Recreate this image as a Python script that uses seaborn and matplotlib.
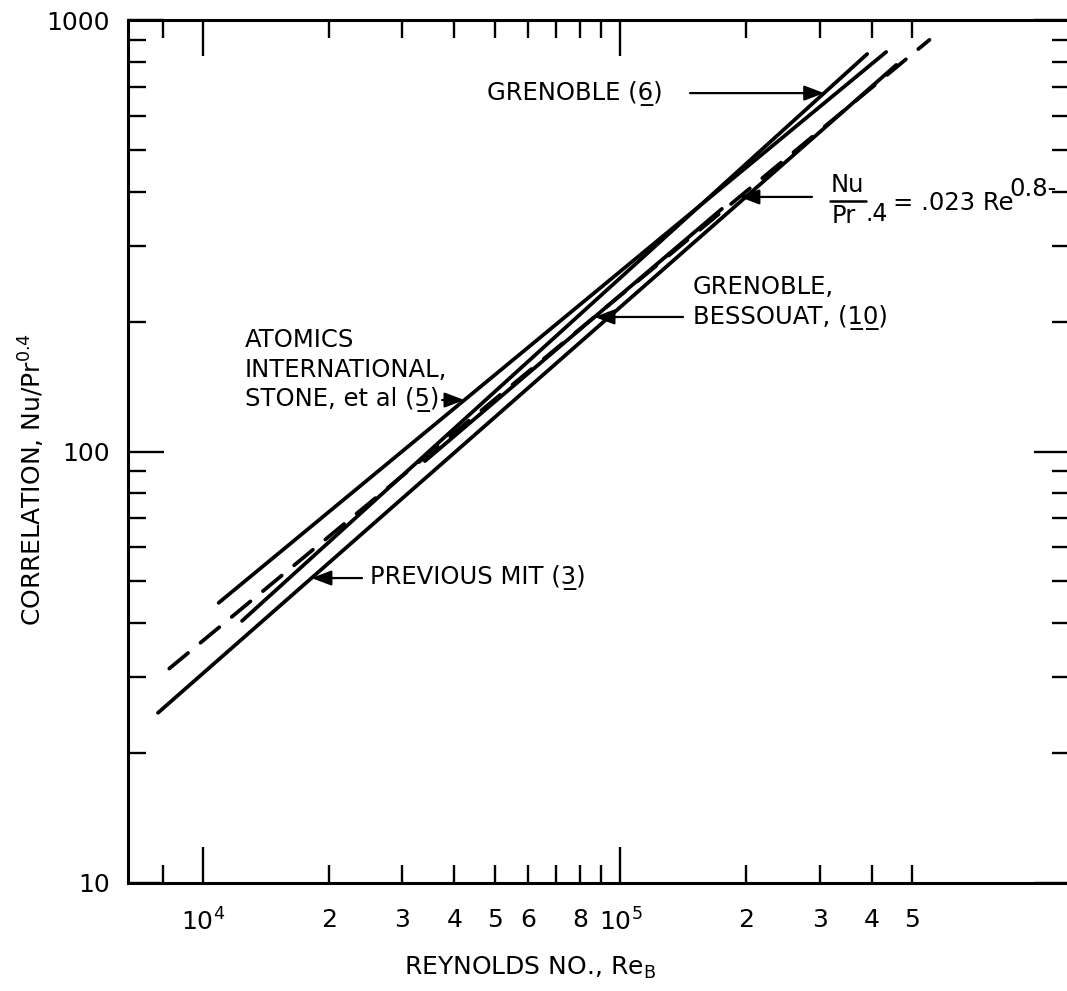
import numpy as np
import matplotlib
matplotlib.use("Agg")
import matplotlib.pyplot as plt
from matplotlib.lines import Line2D
from matplotlib.ticker import FixedLocator, FixedFormatter
import seaborn as sns

# ---- correlation lines: end points (Reynolds number, Nu/Pr^0.4) ----
atomics_re = [1.09e4, 4.33e5]
atomics_nu = [44.6, 843.0]
grenoble_re = [1.24e4, 3.90e5]
grenoble_nu = [40.5, 834.0]
mit_re = [7.8e3, 4.58e5]
mit_nu = [24.8, 787.0]
bessouat_re = [3.4e4, 1.75e5]
bessouat_nu = [95.0, 365.0]

# Dittus-Boelter form  Nu/Pr^.4 = .023 Re^0.8
db_coef = 0.023
db_exp = 0.8
db_re = [8.3e3, 5.5e5]

# ---- axis ticks ----
x_major = [1e4, 1e5]
x_major_labels = [r"$\mathregular{10^4}$", r"$\mathregular{10^5}$"]
x_minor = [8e3, 2e4, 3e4, 4e4, 5e4, 6e4, 7e4, 8e4, 9e4, 2e5, 3e5, 4e5, 5e5]
x_minor_labels = ["", "2", "3", "4", "5", "6", "", "8", "", "2", "3", "4", "5"]
y_major = [10, 100, 1000]
y_major_labels = ["10", "100", "1000"]
y_minor = [20, 30, 40, 50, 60, 70, 80, 90, 200, 300, 400, 500, 600, 700, 800, 900]

W, H = 1067, 991
sns.set_theme(style="ticks")
plt.rcParams["font.family"] = ["DejaVu Sans"]
plt.rcParams["mathtext.fontset"] = "dejavusans"

fig = plt.figure(figsize=(W / 100, H / 100), dpi=100)
fig.patch.set_facecolor("white")
ax = fig.add_axes([128 / W, (H - 883) / H, (1070 - 128) / W, (883 - 20) / H])
ax.set_facecolor("white")
ax.set_xscale("log")
ax.set_yscale("log")
ax.set_xlim(6610, 1.194e6)
ax.set_ylim(10, 1000)

LW = 2.7
for re, nu in [(atomics_re, atomics_nu), (grenoble_re, grenoble_nu),
               (mit_re, mit_nu), (bessouat_re, bessouat_nu)]:
    sns.lineplot(x=re, y=nu, ax=ax, color="black", lw=LW)
    ax.lines[-1].set_solid_capstyle("round")

db_nu = db_coef * np.power(db_re, db_exp)
sns.lineplot(x=db_re, y=db_nu, ax=ax, color="black", lw=LW)
ax.lines[-1].set_dashes((6.5, 4.3))
ax.lines[-1].set_dash_capstyle("round")

# ---- axes styling ----
for s in ax.spines.values():
    s.set_linewidth(2.2)
    s.set_color("black")
ax.xaxis.set_major_locator(FixedLocator(x_major))
ax.xaxis.set_major_formatter(FixedFormatter(x_major_labels))
ax.xaxis.set_minor_locator(FixedLocator(x_minor))
ax.xaxis.set_minor_formatter(FixedFormatter(x_minor_labels))
ax.yaxis.set_major_locator(FixedLocator(y_major))
ax.yaxis.set_major_formatter(FixedFormatter(y_major_labels))
ax.yaxis.set_minor_locator(FixedLocator(y_minor))
ax.yaxis.set_minor_formatter(FixedFormatter([""] * len(y_minor)))
ax.tick_params(which="both", direction="in", top=True, right=True,
               width=1.7, color="black", labelsize=18, labelcolor="black")
ax.tick_params(which="major", length=26)
ax.tick_params(which="minor", length=13)
ax.tick_params(axis="x", which="both", pad=18)
ax.tick_params(axis="y", which="both", pad=13)

ax.set_xlabel(r"REYNOLDS NO., Re$_{\mathregular{B}}$", fontsize=18, color="black")
ax.xaxis.set_label_coords(0.427, -0.098)
ax.set_ylabel(r"CORRELATION, Nu/Pr$^{\mathregular{0.4}}$", fontsize=18, color="black")
ax.yaxis.set_label_coords(-0.102, 0.467)
ax.xaxis.label.set_va("center")
ax.yaxis.label.set_va("center")

NOTE = 17.5


def ftext(x, y, s, size=NOTE, **kw):
    fig.text(x / W, 1 - y / H, s, fontsize=size, color="black",
             va="center", ha=kw.pop("ha", "left"), **kw)


def point_on(re, nu, level):
    """Reynolds number where a straight log-log line reaches `level`."""
    lx = np.interp(np.log10(level), np.log10(nu), np.log10(re))
    return 10 ** lx


def pointer(re, nu, level, start_px):
    tip = (point_on(re, nu, level), level)
    ty = ax.transData.transform(tip)[1]
    ax.annotate("", xy=tip, xycoords="data", xytext=(start_px, ty),
                textcoords="figure pixels",
                arrowprops=dict(arrowstyle="-|>,head_length=1.0,head_width=0.38",
                                lw=1.6, color="black", shrinkA=0, shrinkB=0,
                                mutation_scale=12))


UL = "\u0332"

# GRENOBLE (6)
ftext(487, 93, "GRENOBLE (6" + UL + ")")
pointer(grenoble_re, grenoble_nu, 677, 690)

# Dittus-Boelter label
ftext(847, 185, "Nu", ha="center")
fig.add_artist(Line2D([830 / W, 866 / W], [1 - 201 / H] * 2,
                      transform=fig.transFigure, color="black", lw=1.8))
ftext(844, 216, "Pr", ha="center")
ftext(865, 214, ".4", size=17)
ftext(893, 203, "= .023 Re")
ftext(1009, 189, "0.8-")
pointer(db_re, db_nu, 389, 812)

# GRENOBLE, BESSOUAT (10)
ftext(693, 287, "GRENOBLE,")
ftext(693, 317, "BESSOUAT, (1" + UL + "0" + UL + ")")
pointer(bessouat_re, bessouat_nu, 205, 683)

# ATOMICS INTERNATIONAL
ftext(245, 340, "ATOMICS")
ftext(245, 370, "INTERNATIONAL,")
ftext(245, 400, "STONE, et al (5" + UL + ")")
pointer(atomics_re, atomics_nu, 131.6, 442)

# PREVIOUS MIT (3)
ftext(370, 578, "PREVIOUS MIT (3" + UL + ")")
pointer(mit_re, mit_nu, 50.9, 362)

fig.savefig("out.png", dpi=100, facecolor="white")
